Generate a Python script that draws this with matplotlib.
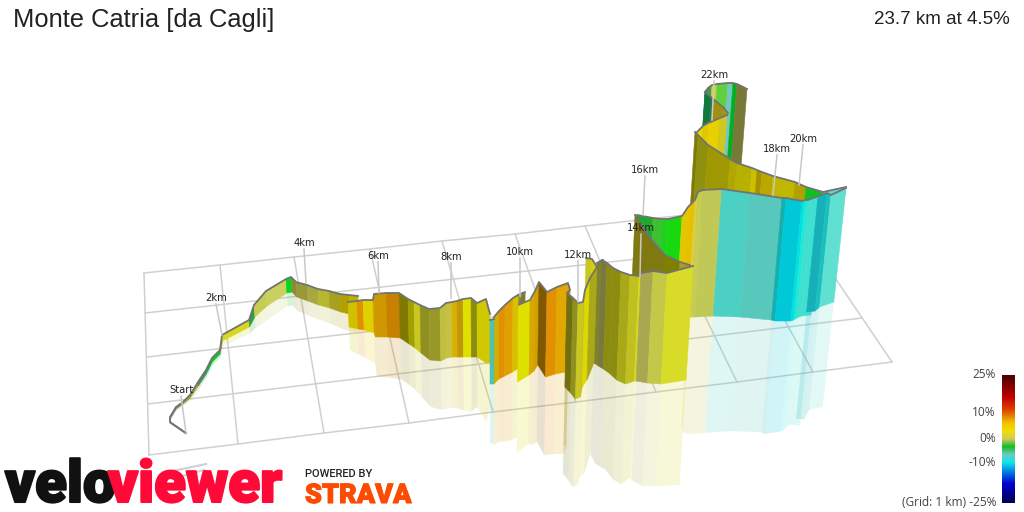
import numpy as np
import matplotlib
matplotlib.use("Agg")
import matplotlib.pyplot as plt
import matplotlib.patheffects as pe
from matplotlib.colors import LinearSegmentedColormap

OUTLINE = "#737373"
GRID = "#d0d0d0"
LEAN = 0.0003
MIRROR = 0.92

# ground grid, screen coordinates of each line's two ends
grid_back_x = [144, 220, 294, 370, 442, 515, 585, 657, 725, 785]
grid_back_y = [273, 265, 257, 249, 241, 234, 226, 218, 211, 204]
grid_front_x = [149, 238, 324, 409, 493, 576, 656, 737, 813, 892]
grid_front_y = [455, 444, 433, 423, 412, 402, 392, 382, 372, 362]
grid_left_x = [145, 147, 148]
grid_left_y = [313, 357, 404]
grid_right_x = [810, 835, 862]
grid_right_y = [240, 278, 318]

# distance markers: label, label position, leader end
marker_names = ["Start", "2km", "4km", "6km", "8km", "10km", "12km", "14km", "16km", "18km", "20km", "22km"]
marker_x = [181, 216, 304, 378, 451, 520, 578, 641, 645, 777, 803, 714]
marker_y = [390, 298, 243, 256, 257, 252, 255, 228, 170, 149, 139, 75]
marker_end_x = [186, 222, 306, 379, 451, 520, 578, 640, 643, 773, 799, 712]
marker_end_y = [433, 335, 283, 293, 298, 296, 302, 276, 215, 195, 185, 120]

# the road as ribbons: x along the road, top edge, base edge, strip colours
climb_x = [186, 170, 170, 176, 183, 190, 198, 206, 212, 220, 222, 249, 254, 266, 286, 291, 296, 307, 318, 329, 340, 349, 358]
climb_top = [433, 422, 417, 407, 402, 395, 382, 370, 358, 350, 335, 320, 305, 291, 279, 277, 282, 285, 289, 291, 294, 295, 296]
climb_base = [434, 423, 419, 409, 404, 398, 386, 374, 362, 354, 341, 327, 317, 306, 293, 292, 297, 301, 305, 308, 312, 314, 315]
climb_colors = ["#707050", "#707050", "#808060", "#909050", "#a0a040", "#a0a840", "#409050", "#10b040", "#10c030",
                "#a0a040", "#d8d820", "#30a040", "#c8cc50", "#c8d060", "#00d820", "#8c8c38", "#989838", "#a8a840",
                "#b8b830", "#a8a020", "#b0a000", "#c0b000"]

ridge_x = [348, 357, 363, 373, 374, 386, 399, 408, 414, 420, 429, 440, 446, 452, 457, 463, 471, 477, 486, 490]
ridge_top = [302, 301, 300, 300, 294, 293, 293, 299, 302, 305, 309, 308, 303, 302, 301, 299, 298, 303, 299, 314]
ridge_base = [327, 329, 330, 333, 337, 337, 338, 344, 348, 353, 360, 361, 358, 357, 357, 357, 357, 357, 363, 363]
ridge_colors = ["#d0c000", "#e09000", "#e0d000", "#d09800", "#d09800", "#c88000", "#807800", "#a0a000", "#c8c820",
                "#909020", "#989828", "#c0c040", "#c8c040", "#d8b000", "#c09808", "#e0e000", "#8c8c10", "#d0c800", "#d0c800"]

dip_x = [490, 494]
dip_top = [320, 319]
dip_base = [384, 384]
dip_colors = ["#50c0b0"]

kick_x = [494, 499, 505, 513, 518]
kick_top = [317, 311, 305, 298, 295]
kick_base = [384, 379, 376, 372, 369]
kick_colors = ["#d0b000", "#e09000", "#e0a000", "#d8c000"]

fold_x = [518, 525, 519]
fold_top = [295, 292, 305]
fold_base = [325, 325, 325]
fold_colors = ["#909020", "#808010"]

wall_x = [518, 530, 535, 539, 547, 557, 568, 570, 567]
wall_top = [305, 300, 291, 282, 292, 287, 283, 290, 293]
wall_base = [382, 375, 371, 365, 377, 374, 372, 372, 372]
wall_colors = ["#e0e000", "#d8a800", "#d0a000", "#805800", "#e09000", "#e0a800", "#e0a800", "#c09000"]

hairpin_x = [567, 573, 578, 583, 585, 590, 597]
hairpin_top = [293, 298, 303, 302, 290, 278, 267]
hairpin_base = [387, 393, 399, 397, 387, 380, 363]
hairpin_colors = ["#707010", "#909020", "#c8c820", "#c8c020", "#dcd800", "#a8a818"]

turn_x = [586, 592, 597, 603]
turn_top = [258, 259, 267, 260]
turn_base = [330, 330, 363, 363]
turn_colors = ["#c8c820", "#d8d000", "#909020"]

front_x = [597, 602, 607, 613, 621, 630, 639, 641, 653, 667, 693]
front_top = [263, 260, 263, 268, 272, 275, 276, 273, 271, 273, 266]
front_base = [363, 366, 369, 373, 380, 384, 381, 381, 383, 384, 380]
front_colors = ["#808030", "#787840", "#8c8c10", "#8c8c10", "#a8a818", "#c0c020", "#d8d820", "#a8a850", "#c4c848", "#d8dc28"]

meadow_x = [637, 653, 662, 668, 682, 688, 695]
meadow_top = [215, 218, 219, 219, 216, 207, 200]
meadow_base = [240, 270, 280, 285, 285, 285, 285]
meadow_colors = ["#20a830", "#40c030", "#20d020", "#18d810", "#e0c800", "#e8c000"]

shelf_x = [635, 650, 665, 680, 693]
shelf_top = [215, 238, 255, 262, 266]
shelf_base = [285, 285, 285, 285, 285]
shelf_colors = ["#807810", "#807810", "#808000", "#a89f20"]

summit_x = [695, 698, 703, 722]
summit_top = [200, 192, 190, 189]
summit_base = [317, 317, 317, 316]
summit_colors = ["#d8d040", "#c8cc50", "#c0c858"]

descent_x = [722, 750, 782, 786, 802, 805, 808, 813, 823]
descent_top = [189, 193, 198, 198, 201, 200, 200, 198, 195]
descent_base = [316, 317, 320, 321, 321, 320, 318, 316, 315]
descent_colors = ["#4cd0c4", "#58c8bc", "#14b0b0", "#00c8d8", "#00e0e0", "#20e8d8", "#40e0d0", "#40e0d0"]

finish_x = [818, 827, 831, 846]
finish_top = [196, 193, 195, 188]
finish_base = [312, 311, 307, 302]
finish_colors = ["#18b0b8", "#18c0c0", "#60e0d0"]

upper_x = [695, 698, 708, 730, 737, 752, 757, 762, 773, 795, 806, 823]
upper_top = [132, 135, 145, 159, 163, 168, 170, 172, 176, 182, 187, 192]
upper_base = [220, 220, 220, 220, 220, 220, 220, 220, 220, 220, 205, 205]
upper_colors = ["#807808", "#909010", "#a09800", "#b0a800", "#b8b000", "#c8c000", "#a89000", "#b8a800", "#c0b800", "#b0a000", "#10c020"]

ledge_x = [823, 846]
ledge_top = [192, 187]
ledge_base = [200, 196]
ledge_colors = ["#60d8d0"]

loop_x = [705, 708, 712, 717, 728, 733, 737, 747]
loop_top = [92, 88, 85, 84, 83, 83, 84, 89]
loop_base = [175, 175, 175, 175, 175, 175, 175, 175]
loop_colors = ["#108040", "#40a040", "#d0d040", "#60d040", "#70c8c0", "#00b020", "#787838"]

inner_x = [705, 711, 713, 723, 728]
inner_top = [92, 97, 99, 107, 113]
inner_base = [130, 126, 124, 118, 116]
inner_colors = ["#107840", "#208050", "#a09010", "#a09818"]

crest_x = [697, 703, 708, 713, 720, 727]
crest_top = [132, 126, 123, 121, 118, 115]
crest_base = [175, 175, 175, 175, 175, 175]
crest_colors = ["#e8d800", "#e0c800", "#e8d000", "#e8d000", "#d0c820"]

# gradient scale
scale_stops = [0.0, 0.17, 0.27, 0.37, 0.44, 0.5, 0.56, 0.62, 0.68, 0.78, 0.85, 1.0]
scale_colors = ["#4a0000", "#c00000", "#e04000", "#f0c000", "#f0e000", "#d0c860", "#10c020", "#70c8c0",
                "#10e8e8", "#0060e0", "#0000d0", "#000050"]
scale_labels = ["25%", "10%", "0%", "-10%", "(Grid: 1 km) -25%"]
scale_label_y = [375, 413, 438, 463, 503]


def base_xs(xs, tops, bases):
    xs, tops, bases = np.array(xs, float), np.array(tops, float), np.array(bases, float)
    return xs - (xs - 490) * LEAN * (bases - tops)


def draw_ribbon(ax, xs, tops, bases, colors):
    bx = base_xs(xs, tops, bases)
    for i, color in enumerate(colors):
        ax.fill([xs[i], xs[i + 1], bx[i + 1], bx[i]],
                [tops[i], tops[i + 1], bases[i + 1], bases[i]],
                facecolor=color, edgecolor=color, linewidth=0.4, zorder=4)
    ax.plot(xs, tops, color=OUTLINE, linewidth=1.3, solid_joinstyle="round", zorder=4)


def draw_reflection(ax, xs, tops, bases, colors):
    xs, tops, bases = np.array(xs, float), np.array(tops, float), np.array(bases, float)
    bx = base_xs(xs, tops, bases)
    rx = bx - (xs - bx) * MIRROR
    ry = bases + (bases - tops) * MIRROR
    for i, color in enumerate(colors):
        ax.fill([bx[i], bx[i + 1], rx[i + 1], rx[i]],
                [bases[i], bases[i + 1], ry[i + 1], ry[i]],
                facecolor=color, edgecolor="none", alpha=0.18, zorder=3)


def draw_grid(ax):
    for x0, y0, x1, y1 in zip(grid_back_x, grid_back_y, grid_front_x, grid_front_y):
        ax.plot([x0, x1], [y0, y1], color=GRID, linewidth=1.1, zorder=1)
    ax.plot(grid_back_x, grid_back_y, color=GRID, linewidth=1.1, zorder=1)
    ax.plot(grid_front_x, grid_front_y, color=GRID, linewidth=1.1, zorder=1)
    for x0, y0, x1, y1 in zip(grid_left_x, grid_left_y, grid_right_x, grid_right_y):
        ax.plot([x0, x1], [y0, y1], color=GRID, linewidth=1.1, zorder=1)
    # stub of the ground plane poking out under the wordmark
    ax.plot([168, 206], [472, 464], color=GRID, linewidth=1.5, zorder=1)
    ax.plot([172, 204], [479, 470], color=GRID, linewidth=1.5, zorder=1)


def draw_markers(ax):
    for name, x, y, ex, ey in zip(marker_names, marker_x, marker_y, marker_end_x, marker_end_y):
        ax.plot([x, ex], [y + 6, ey], color="#c8c8c8", linewidth=1.1, zorder=5)
        ax.text(x, y, name, fontsize=7.2, color="#222222", family="DejaVu Sans",
                ha="center", va="center", zorder=6)


def draw_scale(ax):
    cmap = LinearSegmentedColormap.from_list("grade", list(zip(scale_stops, scale_colors)))
    gradient = np.linspace(0, 1, 256).reshape(-1, 1)
    ax.imshow(gradient, cmap=cmap, extent=[1002, 1015, 503, 375], aspect="auto", zorder=2)
    for label, y in zip(scale_labels, scale_label_y):
        ax.text(996, y, label, fontsize=8.6, color="#444444", family="Open Sans", ha="right", va="center")


def draw_logos(ax):
    ax.text(5, 502, "velo", fontsize=42, color="#111111", family="Roboto", fontweight="black",
            ha="left", va="baseline", zorder=7,
            path_effects=[pe.withStroke(linewidth=1.5, foreground="#111111")])
    ax.text(108, 502, "viewer", fontsize=42, color="#ff0a38", family="Roboto", fontweight="black",
            ha="left", va="baseline", zorder=7,
            path_effects=[pe.withStroke(linewidth=1.5, foreground="#ff0a38")])
    ax.text(305, 474, "POWERED BY", fontsize=8, color="#222222", family="Roboto", fontweight="medium",
            ha="left", va="center", zorder=7)
    ax.text(305, 503, "STRAVA", fontsize=19.5, color="#fc4c02", family="Roboto", fontweight="black",
            ha="left", va="baseline", zorder=7,
            path_effects=[pe.withStroke(linewidth=0.8, foreground="#fc4c02")])


def main():
    fig = plt.figure(figsize=(10.24, 5.12), dpi=100)
    ax = fig.add_axes([0, 0, 1, 1])

    draw_grid(ax)

    reflected = [
        (climb_x, climb_top, climb_base, climb_colors),
        (ridge_x, ridge_top, ridge_base, ridge_colors),
        (dip_x, dip_top, dip_base, dip_colors),
        (kick_x, kick_top, kick_base, kick_colors),
        (wall_x, wall_top, wall_base, wall_colors),
        (hairpin_x, hairpin_top, hairpin_base, hairpin_colors),
        (front_x, front_top, front_base, front_colors),
        (summit_x, summit_top, summit_base, summit_colors),
        (descent_x, descent_top, descent_base, descent_colors),
        (finish_x, finish_top, finish_base, finish_colors),
    ]
    for xs, tops, bases, colors in reflected:
        draw_reflection(ax, xs, tops, bases, colors)

    # painted back to front
    draw_ribbon(ax, loop_x, loop_top, loop_base, loop_colors)
    draw_ribbon(ax, inner_x, inner_top, inner_base, inner_colors)
    draw_ribbon(ax, crest_x, crest_top, crest_base, crest_colors)
    draw_ribbon(ax, upper_x, upper_top, upper_base, upper_colors)
    draw_ribbon(ax, ledge_x, ledge_top, ledge_base, ledge_colors)
    draw_ribbon(ax, meadow_x, meadow_top, meadow_base, meadow_colors)
    draw_ribbon(ax, shelf_x, shelf_top, shelf_base, shelf_colors)
    draw_ribbon(ax, summit_x, summit_top, summit_base, summit_colors)
    draw_ribbon(ax, descent_x, descent_top, descent_base, descent_colors)
    draw_ribbon(ax, finish_x, finish_top, finish_base, finish_colors)
    draw_ribbon(ax, turn_x, turn_top, turn_base, turn_colors)
    draw_ribbon(ax, front_x, front_top, front_base, front_colors)
    draw_ribbon(ax, climb_x, climb_top, climb_base, climb_colors)
    draw_ribbon(ax, ridge_x, ridge_top, ridge_base, ridge_colors)
    draw_ribbon(ax, fold_x, fold_top, fold_base, fold_colors)
    draw_ribbon(ax, wall_x, wall_top, wall_base, wall_colors)
    draw_ribbon(ax, kick_x, kick_top, kick_base, kick_colors)
    draw_ribbon(ax, dip_x, dip_top, dip_base, dip_colors)
    draw_ribbon(ax, hairpin_x, hairpin_top, hairpin_base, hairpin_colors)

    draw_markers(ax)
    draw_scale(ax)
    draw_logos(ax)

    ax.text(13, 20, "Monte Catria [da Cagli]", fontsize=18.4, color="#222222",
            family="Liberation Sans", ha="left", va="center")
    ax.text(1010, 20, "23.7 km at 4.5%", fontsize=13.5, color="#222222",
            family="Liberation Sans", ha="right", va="center")

    ax.set_xlim(0, 1024)
    ax.set_ylim(512, 0)
    ax.axis("off")
    fig.savefig("out.png", dpi=100, facecolor="white")
    plt.close(fig)


if __name__ == "__main__":
    main()
